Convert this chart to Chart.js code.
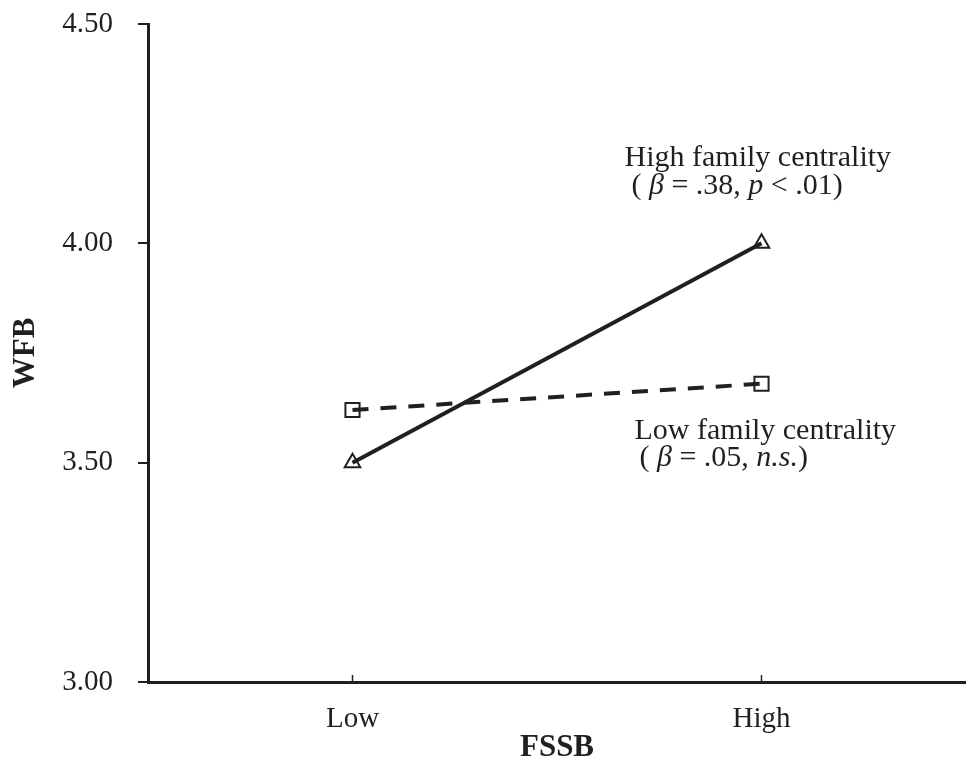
<!DOCTYPE html>
<html>
<head>
<meta charset="utf-8">
<script src="https://cdn.jsdelivr.net/npm/chart.js@4.4.0/dist/chart.umd.min.js"></script>
<style>
  html, body { margin: 0; padding: 0; background: #fff; }
  #wrap { width: 966px; height: 763px; }
</style>
</head>
<body>
<div id="wrap"><canvas id="chart"></canvas></div>
<script>
// datos
const categorias = ['Low', 'High'];
const altaCentralidad = [3.50, 4.00];
const bajaCentralidad = [3.62, 3.68];
const yMin = 3.00, yMax = 4.50, yPaso = 0.50;

const etiquetaAlta = [
    [{ t: 'High family centrality' }],
    [{ t: '( ' }, { t: 'β', i: true }, { t: ' = .38, ' }, { t: 'p', i: true }, { t: ' < .01)' }]
];
const etiquetaBaja = [
    [{ t: 'Low family centrality' }],
    [{ t: '( ' }, { t: 'β', i: true }, { t: ' = .05, ' }, { t: 'n.s.', i: true }, { t: ')' }]
];

const negro = '#231f20';
const fuente = '"Liberation Serif", "Times New Roman", serif';

// marcas internas del eje X y textos de las rectas
const extras = {
    id: 'extras',
    afterDraw(chart) {
        const ctx = chart.ctx;
        const xs = chart.scales.x, ys = chart.scales.y;
        ctx.save();
        ctx.strokeStyle = negro;
        ctx.lineWidth = 1.5;
        categorias.forEach((c, i) => {
            const px = xs.getPixelForValue(i);
            ctx.beginPath();
            ctx.moveTo(px, ys.bottom);
            ctx.lineTo(px, ys.bottom - 7);
            ctx.stroke();
        });

        const escribir = (lineas, x0, y0, offs) => {
            ctx.fillStyle = negro;
            ctx.textBaseline = 'alphabetic';
            ctx.textAlign = 'left';
            lineas.forEach((segs, k) => {
                let x = x0 + offs[k][0];
                const y = y0 + offs[k][1];
                segs.forEach(s => {
                    ctx.font = (s.i ? 'italic ' : '') + '30px ' + fuente;
                    ctx.fillText(s.t, x, y);
                    x += ctx.measureText(s.t).width;
                });
            });
        };
        const hx = xs.getPixelForValue(1);
        escribir(etiquetaAlta, hx, ys.getPixelForValue(altaCentralidad[1]), [[-137, -77], [-130, -49]]);
        escribir(etiquetaBaja, hx, ys.getPixelForValue(bajaCentralidad[1]), [[-127, 55], [-122, 82]]);
        ctx.restore();
    }
};

var ctx = document.getElementById('chart').getContext('2d');
var myChart = new Chart(ctx, {
    type: 'line',
    data: {
        labels: categorias,
        datasets: [{
            label: 'High family centrality',
            data: altaCentralidad,
            borderColor: negro,
            borderWidth: 4,
            pointStyle: 'triangle',
            pointRadius: 9,
            pointBorderWidth: 2,
            pointBorderColor: negro,
            pointBackgroundColor: 'rgba(0,0,0,0)',
            tension: 0
        }, {
            label: 'Low family centrality',
            data: bajaCentralidad,
            borderColor: negro,
            borderWidth: 4,
            borderDash: [16, 12],
            pointStyle: 'rect',
            pointRadius: 10,
            pointBorderWidth: 2,
            pointBorderColor: negro,
            pointBackgroundColor: 'rgba(0,0,0,0)',
            tension: 0
        }]
    },
    options: {
        responsive: true,
        maintainAspectRatio: false,
        animation: false,
        layout: { autoPadding: false, padding: { top: 24, right: 0, bottom: 0, left: 0 } },
        plugins: {
            legend: { display: false },
            tooltip: { enabled: false }
        },
        scales: {
            x: {
                offset: true,
                afterFit: function (s) {
                    s.height = 81;
                    s.paddingLeft = 0;
                    s.paddingRight = 0;
                },
                grid: { display: true, drawOnChartArea: false, drawTicks: false },
                border: { display: true, color: negro, width: 3 },
                ticks: { color: negro, padding: 20, font: { family: fuente, size: 29 } },
                title: {
                    display: true,
                    text: 'FSSB',
                    color: negro,
                    padding: { top: 0, bottom: 0 },
                    font: { family: fuente, size: 31, weight: 'bold', lineHeight: 1 }
                }
            },
            y: {
                min: yMin,
                max: yMax,
                afterFit: function (s) {
                    s.width = 148;
                    s.paddingTop = 0;
                    s.paddingBottom = 0;
                },
                grid: { drawOnChartArea: false, drawTicks: true, tickLength: 10, color: negro, lineWidth: 2 },
                border: { display: true, color: negro, width: 3 },
                ticks: {
                    stepSize: yPaso,
                    padding: 25,
                    color: negro,
                    font: { family: fuente, size: 29 },
                    callback: function (v) { return Number(v).toFixed(2); }
                },
                title: {
                    display: true,
                    text: 'WFB',
                    color: negro,
                    padding: { top: 10, bottom: 0 },
                    font: { family: fuente, size: 31, weight: 'bold', lineHeight: 1 }
                }
            }
        }
    },
    plugins: [extras]
});
</script>
</body>
</html>
